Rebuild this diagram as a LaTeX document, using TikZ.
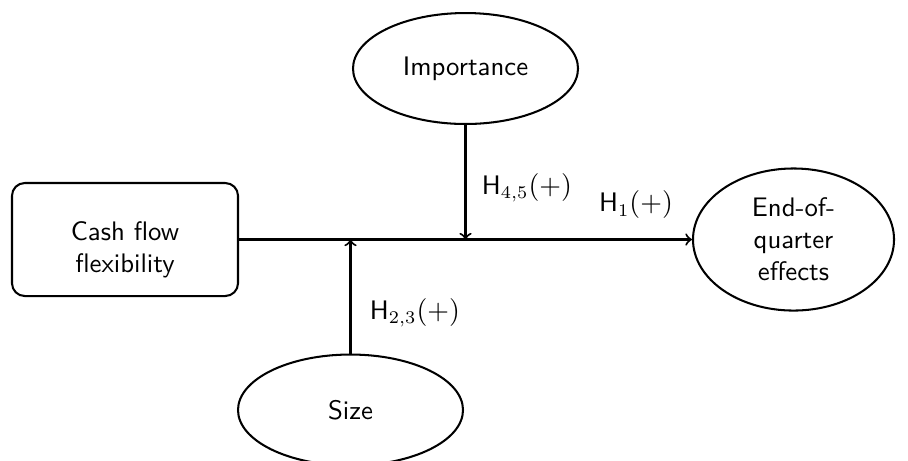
\documentclass[tikz,border=0pt]{standalone}
\usetikzlibrary{shapes.geometric}
\newcommand{\diagfont}{\fontsize{10.5}{12.6}\selectfont\sffamily}
\tikzset{
    factor/.style={draw, ellipse, thick, font=\diagfont, align=center, minimum width=88.2pt, minimum height=43.5pt},
    flexbox/.style={draw, rectangle, rounded corners=5pt, thick, minimum width=88.6pt, minimum height=44.3pt},
    hyplabel/.style={font=\diagfont}
}
\begin{document}
\begin{tikzpicture}[x=0.392pt, y=-0.392pt]
            \useasboundingbox (0, 0) rectangle (908, 460);
            \node[flexbox] (cash) at (125, 239.5) {};
            \node[font=\diagfont, align=center] (cashtext) at (125, 250) {Cash flow\\flexibility};
            \node[factor, minimum width=78.8pt, minimum height=44.3pt] (eoq) at (793.5, 239.5) {End-of-\\quarter\\effects};
            \node[factor] (imp) at (465.5, 68.5) {Importance};
            \node[factor] (size) at (350.5, 410) {Size};
            \draw[->, thick] (cash.east) -- (eoq.west);
            \foreach \src in {imp, size}
                \draw[->, thick] (\src) -- (\src |- cash.east);
            \node[hyplabel] (h45) at (527, 188) {H$_{4,5}(+)$};
            \node[hyplabel] (h1) at (636, 205) {H$_1(+)$};
            \node[hyplabel] (h23) at (415, 313) {H$_{2,3}(+)$};
        \end{tikzpicture}
\end{document}
